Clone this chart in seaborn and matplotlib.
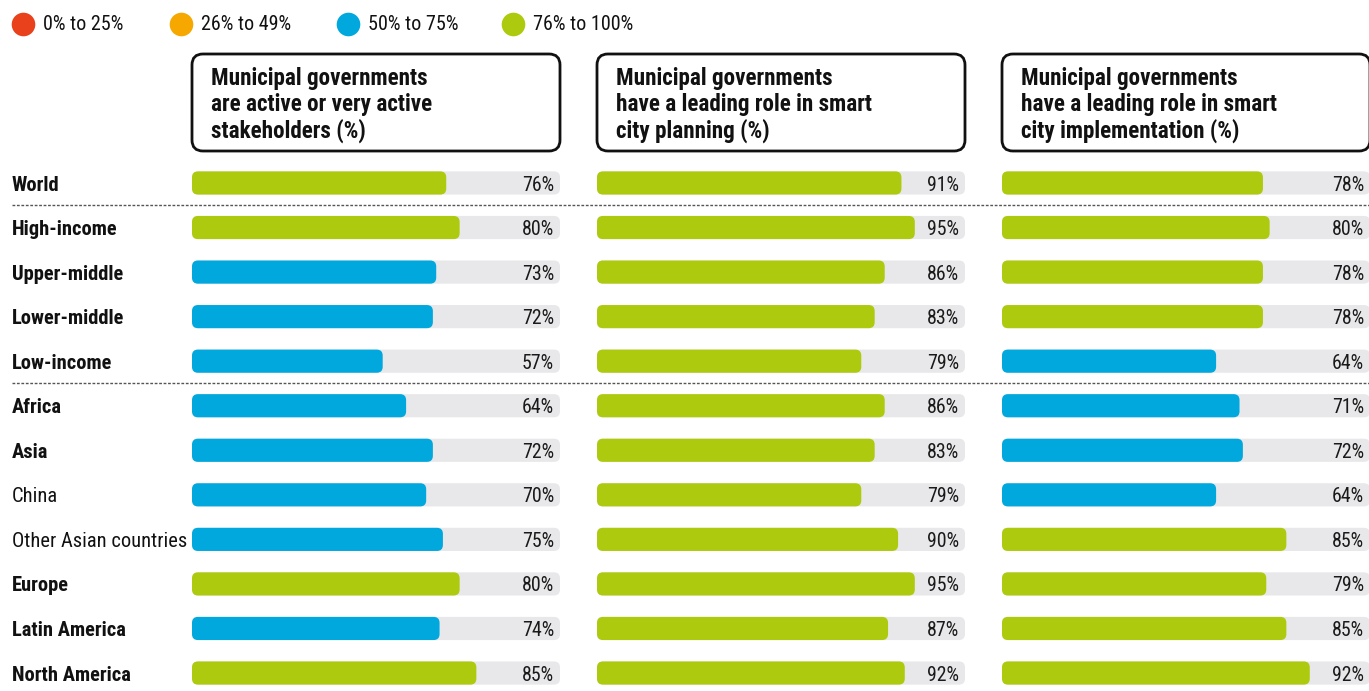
import numpy as np
import pandas as pd
import matplotlib
matplotlib.use("Agg")
import matplotlib.pyplot as plt
import seaborn as sns
from matplotlib import font_manager
from matplotlib.patches import FancyBboxPatch
from matplotlib.lines import Line2D
from matplotlib.transforms import blended_transform_factory

# ---------------- data ----------------
regions = ["World", "High-income", "Upper-middle", "Lower-middle", "Low-income",
           "Africa", "Asia", "China", "Other Asian countries", "Europe",
           "Latin America", "North America"]
bold_rows = [True, True, True, True, True, True, True, False, False, True, True, True]
active_stakeholders = [76, 80, 73, 72, 57, 64, 72, 70, 75, 80, 74, 85]
leading_planning = [91, 95, 86, 83, 79, 86, 83, 79, 90, 95, 87, 92]
leading_implementation = [78, 80, 78, 78, 64, 71, 72, 64, 85, 79, 85, 92]
panel_titles = [
    ["Municipal governments", "are active or very active", "stakeholders (%)"],
    ["Municipal governments", "have a leading role in smart", "city planning (%)"],
    ["Municipal governments", "have a leading role in smart", "city implementation (%)"],
]
legend_labels = ["0% to 25%", "26% to 49%", "50% to 75%", "76% to 100%"]
band_colors = ["#E8411B", "#F6A800", "#00A8DE", "#AECA0E"]
TRACK_MAX = 110

# ---------------- fonts ----------------
def pick_font(cands):
    for c in cands:
        try:
            font_manager.findfont(c, fallback_to_default=False)
            return c
        except Exception:
            pass
    return "DejaVu Sans"

sns.set_theme(style="white")
FONT = pick_font(["Roboto Condensed", "Roboto"])
NARROW = FONT == "Roboto Condensed"
plt.rcParams["font.family"] = [FONT, "DejaVu Sans"]

W, H = 1369, 691
fig = plt.figure(figsize=(W / 100, H / 100), dpi=100)
fig.patch.set_facecolor("white")

def fx(px):
    return px / W

def fy(py):
    return 1 - py / H

def band(v):
    if v <= 25:
        return legend_labels[0]
    if v <= 49:
        return legend_labels[1]
    if v <= 75:
        return legend_labels[2]
    return legend_labels[3]

palette = dict(zip(legend_labels, band_colors))

row_top = 160.7
row_h = 44.55
n = len(regions)
track_w = 368
panel_lefts = [192, 597, 1002]
series = [active_stakeholders, leading_planning, leading_implementation]

lab_size = 14.8 if NARROW else 13.2
val_size = 14.3 if NARROW else 13
title_size = 16.7 if NARROW else 14.6
leg_size = 14.5 if NARROW else 13

axes = []
for left, vals, title in zip(panel_lefts, series, panel_titles):
    ax = fig.add_axes([fx(left), fy(row_top + n * row_h), fx(track_w), n * row_h / H])
    axes.append(ax)
    df = pd.DataFrame({"region": regions, "value": vals,
                       "band": [band(v) for v in vals],
                       "track": [TRACK_MAX] * n})
    sns.barplot(data=df, y="region", x="track", color="#E8E8EA", width=0.52,
                orient="h", saturation=1, ax=ax)
    sns.barplot(data=df, y="region", x="value", hue="band", palette=palette,
                hue_order=legend_labels, dodge=False, width=0.52, orient="h",
                saturation=1, legend=False, ax=ax)
    ax.set_xlim(0, TRACK_MAX)
    ax.set_ylim(n - 0.5, -0.5)
    xu = track_w / TRACK_MAX
    yu = row_h
    aspect = xu / yu
    rad_px = 6.0
    patches = list(ax.patches)
    for p in patches:
        x0, y0 = p.get_x(), p.get_y()
        w, h = p.get_width(), p.get_height()
        fc = p.get_facecolor()
        z = p.get_zorder()
        p.remove()
        if w <= 0 or np.isnan(w):
            continue
        rb = FancyBboxPatch((x0, y0), w, h,
                            boxstyle=f"round,pad=0,rounding_size={rad_px / xu}",
                            mutation_aspect=aspect, facecolor=fc,
                            edgecolor="none", zorder=z)
        ax.add_patch(rb)
    for i, v in enumerate(vals):
        ax.text(TRACK_MAX - 1.8, i + 0.17, f"{v}%", ha="right", va="baseline",
                fontsize=val_size, color="#1a1a1a")
    ax.axis("off")

    # title box
    box = FancyBboxPatch((fx(left), fy(151)), fx(track_w), (151 - 54) / H,
                         boxstyle="round,pad=0,rounding_size=0.008",
                         mutation_aspect=W / H,
                         transform=fig.transFigure, facecolor="white",
                         edgecolor="#111111", linewidth=2.0)
    fig.add_artist(box)
    for k, line in enumerate(title):
        fig.text(fx(left + 19), fy(85.5 + k * 26), line, ha="left", va="baseline",
                 fontsize=title_size, fontweight="bold", color="#111111")

# row labels
ax1 = axes[0]
tr = blended_transform_factory(fig.transFigure, ax1.transData)
for i, (r, b) in enumerate(zip(regions, bold_rows)):
    ax1.text(fx(12), i + 0.17, r, transform=tr, ha="left", va="baseline",
             fontsize=lab_size, fontweight="bold" if b else "normal",
             color="#111111", clip_on=False)

# dashed separators
for yy in [0.5, 4.5]:
    ln = Line2D([fx(12), 1.0], [yy, yy], transform=tr, color="#555555",
                linewidth=1.0, linestyle=(0, (2, 1.2)), clip_on=False)
    ax1.add_line(ln)

# legend
leg_x = [23, 181, 348, 513]
for x, lab, c in zip(leg_x, legend_labels, band_colors):
    fig.add_artist(Line2D([fx(x)], [fy(24)], marker="o", markersize=17,
                          markerfacecolor=c, markeredgecolor="none",
                          linestyle="none", transform=fig.transFigure))
    fig.text(fx(x + 20), fy(24), lab, ha="left", va="center",
             fontsize=leg_size, color="#111111")

fig.savefig("out.png", dpi=100, facecolor="white")
